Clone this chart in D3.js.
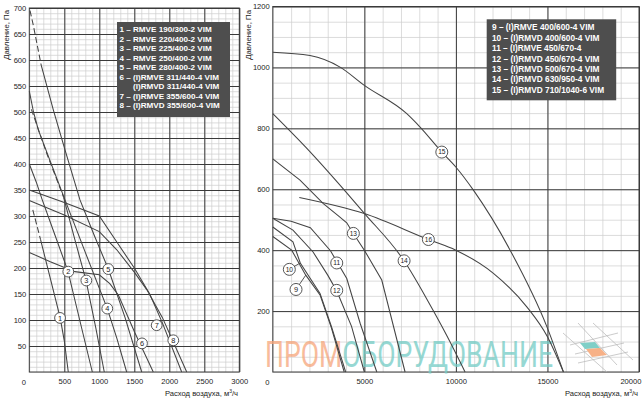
<!DOCTYPE html>
<html>
<head>
<meta charset="utf-8">
<script src="https://cdn.jsdelivr.net/npm/d3@7"></script>
<style>
  body { margin: 0; background: #fff; }
  svg { display: block; font-family: "Liberation Sans", Arial, sans-serif; }
</style>
</head>
<body>
<svg id="chart" width="642" height="400"></svg>
<script>
// ---- left chart: small fans (m3/h, Pa)
const leftFlowTicks = [500, 1000, 1500, 2000, 2500, 3000];
const leftPressureTicks = [50, 100, 150, 200, 250, 300, 350, 400, 450, 500, 550, 600, 650, 700];
const leftLegend = [
  "1 – RMVE 190/300-2 VIM",
  "2 – RMVE 220/400-2 VIM",
  "3 – RMVE 225/400-2 VIM",
  "4 – RMVE 250/400-2 VIM",
  "5 – RMVE 280/400-2 VIM",
  "6 – (I)RMVE 311/440-4 VIM",
  "      (I)RMVD 311/440-4 VIM",
  "7 – (I)RMVE 355/600-4 VIM",
  "8 – (I)RMVD 355/600-4 VIM"
];

const curve1Dash = [[50, 312], [160, 255]];
const curve1 = [[160, 255], [300, 180], [440, 105], [500, 60], [557, 0]];
const curve2 = [[0, 400], [100, 365], [180, 333], [370, 262], [550, 195], [720, 100], [900, 0]];
const curve3Dash = [[30, 505], [250, 420], [490, 336]];
const curve3 = [[490, 336], [650, 255], [810, 176], [950, 85], [1071, 0]];
const curve4 = [[0, 540], [60, 500], [130, 465], [300, 405], [510, 331], [800, 230], [1114, 122], [1250, 65], [1391, 0]];
const curve5Dash = [[10, 695], [60, 665], [170, 590]];
const curve5 = [[170, 590], [343, 504], [510, 427], [724, 331], [930, 262], [1129, 198], [1367, 105], [1606, 0]];
const curve6 = [[0, 230], [300, 212], [650, 193], [1000, 187], [1150, 170], [1272, 148], [1510, 75], [1771, 0]];
const curve7 = [[0, 350], [500, 326], [1000, 300], [1250, 250], [1500, 200], [1720, 150], [1900, 95], [2177, 0]];
const curve8 = [[0, 330], [500, 302], [1000, 270], [1250, 235], [1500, 192], [1680, 158], [1900, 105], [2249, 0]];

// label number, flow, pressure
const leftLabels = [
  ["1", 439, 104], ["2", 557, 193], ["3", 815, 176], ["4", 1114, 122],
  ["5", 1129, 198], ["6", 1610, 55], ["7", 1820, 90], ["8", 2057, 61]
];

// ---- right chart: big fans
const rightFlowTicks = [5000, 10000, 15000, 20000];
const rightPressureTicks = [200, 400, 600, 800, 1000, 1200];
const rightLegend = [
  "9 – (I)RMVE 400/600-4 VIM",
  "10 – (I)RMVD 400/600-4 VIM",
  "11 – (I)RMVE 450/670-4",
  "12 – (I)RMVD 450/670-4 VIM",
  "13 – (I)RMVD 500/670-4 VIM",
  "14 – (I)RMVD 630/950-4 VIM",
  "15 – (I)RMVD 710/1040-6 VIM"
];

const curve9 = [[0, 445], [1030, 400], [1800, 318], [2579, 253], [3200, 145], [3900, 0]];
const curve10 = [[0, 476], [1100, 427], [1500, 358], [2579, 258], [3200, 150], [3980, 0]];
const curve11 = [[0, 505], [1000, 495], [2050, 474], [3150, 398], [4040, 307], [4770, 160], [5680, 0]];
const curve12 = [[0, 505], [1100, 466], [2200, 394], [3000, 318], [3500, 265], [4300, 150], [5000, 0]];
const curve13 = [[0, 700], [1486, 630], [2760, 553], [3600, 512], [4038, 490], [4400, 455], [5000, 400], [5950, 302], [7224, 0]];
const curve14 = [[0, 848], [2000, 725], [4038, 588], [5000, 521], [7170, 365], [8500, 230], [9500, 120], [10503, 0]];
const curve15 = [[0, 1050], [2033, 1039], [3672, 1001], [5000, 941], [7317, 848], [8044, 804], [9230, 722], [9995, 673], [10956, 597], [12962, 400], [14967, 149], [15874, 0]];
const curve16 = [[1448, 573], [5000, 520], [8497, 435], [9995, 400], [12049, 324], [13873, 214], [15000, 116], [15874, 0]];

const rightLabels = [
  ["9", 1268, 271], ["10", 902, 337], ["11", 3492, 358], ["12", 3492, 268],
  ["13", 4400, 455], ["14", 7170, 365], ["15", 9230, 722], ["16", 8497, 435]
];
// leader lines: label -> flow on its curve
const rightLeaders = [["9", 1800, curve9], ["10", 1500, curve10]];

const svg = d3.select("#chart");
const ink = "#444";

const xL = d3.scaleLinear().domain([0, 3000]).range([29.3, 239.3]);
const yL = d3.scaleLinear().domain([0, 700]).range([372, 8]);
const xR = d3.scaleLinear().domain([0, 20000]).range([272.8, 639]);
const yR = d3.scaleLinear().domain([0, 1200]).range([372, 6.5]);

function grid(x, y, minorX, minorY, majorX, majorY) {
  const [x0, x1] = x.range(), [y0, y1] = y.range();
  const g = svg.append("g");
  g.append("rect").attr("x", x0).attr("y", y1).attr("width", x1 - x0).attr("height", y0 - y1).attr("fill", "#fff");
  g.append("g").attr("transform", `translate(0,${y0})`)
    .call(d3.axisBottom(x).tickValues(minorX).tickSize(-(y0 - y1)).tickFormat(""))
    .call(a => a.selectAll("line").attr("stroke", "#cdcdcd").attr("stroke-width", 0.7))
    .call(a => a.select(".domain").remove());
  g.append("g").attr("transform", `translate(${x0},0)`)
    .call(d3.axisLeft(y).tickValues(minorY).tickSize(-(x1 - x0)).tickFormat(""))
    .call(a => a.selectAll("line").attr("stroke", "#cdcdcd").attr("stroke-width", 0.7))
    .call(a => a.select(".domain").remove());
  g.append("g").attr("transform", `translate(0,${y0})`)
    .call(d3.axisBottom(x).tickValues(majorX).tickSize(-(y0 - y1)).tickFormat(""))
    .call(a => a.selectAll("line").attr("stroke", "#3a3a3a").attr("stroke-width", 1))
    .call(a => a.select(".domain").remove());
  g.append("g").attr("transform", `translate(${x0},0)`)
    .call(d3.axisLeft(y).tickValues(majorY).tickSize(-(x1 - x0)).tickFormat(""))
    .call(a => a.selectAll("line").attr("stroke", "#3a3a3a").attr("stroke-width", 1))
    .call(a => a.select(".domain").remove());
  g.append("rect").attr("x", x0).attr("y", y1).attr("width", x1 - x0).attr("height", y0 - y1)
    .attr("fill", "none").attr("stroke", "#3a3a3a").attr("stroke-width", 1);
}

function axisText(x, y, flowTicks, pressureTicks) {
  const [x0] = x.range(), [y0] = y.range();
  const style = a => a.attr("font-size", 7.6).attr("font-family", null)
    .call(s => s.select(".domain").remove())
    .call(s => s.selectAll("text").attr("fill", "#222"));
  svg.append("g").attr("transform", `translate(0,${y0})`)
    .call(d3.axisBottom(x).tickValues(flowTicks).tickFormat(d3.format("d")).tickSize(0).tickPadding(7))
    .call(style);
  svg.append("g").attr("transform", `translate(${x0},0)`)
    .call(d3.axisLeft(y).tickValues(pressureTicks).tickFormat(d3.format("d")).tickSize(0).tickPadding(3))
    .call(style);
  svg.append("text").attr("x", x(0) - 5.5).attr("y", y0 + 12.5)
    .attr("text-anchor", "middle").attr("font-size", 7.6).attr("fill", "#222").text("0");
}

grid(xL, yL, d3.range(0, 3001, 100), d3.range(0, 701, 10), leftFlowTicks, leftPressureTicks);
grid(xR, yR, d3.range(0, 20001, 1000), d3.range(0, 1201, 50), rightFlowTicks, rightPressureTicks);
axisText(xL, yL, leftFlowTicks, leftPressureTicks);
axisText(xR, yR, rightFlowTicks, rightPressureTicks);
// last right-hand label is pulled in to stay inside the picture
svg.selectAll("g.tick text").filter(d => d === 20000).attr("text-anchor", "end").attr("dx", 2);

// axis titles
[[9, 10], [251, 10]].forEach(([tx, ty]) => {
  svg.append("text").attr("transform", `translate(${tx},${ty}) rotate(-90)`)
    .attr("text-anchor", "end").attr("font-size", 7.8).attr("fill", "#222").text("Давление, Па");
});
[[238, 396], [638, 396]].forEach(([tx, ty]) => {
  svg.append("text").attr("x", tx).attr("y", ty).attr("text-anchor", "end")
    .attr("font-size", 7.6).attr("fill", "#222")
    .html("Расход воздуха, м<tspan font-size='5' dy='-3'>3</tspan><tspan dy='3'>/ч</tspan>");
});

// watermark (drawn under the curves)
const wm = svg.append("text").attr("x", 265).attr("y", 367)
  .attr("font-family", "Roboto, 'Liberation Sans', sans-serif").attr("font-size", 36)
  .attr("textLength", 288).attr("lengthAdjust", "spacingAndGlyphs").attr("opacity", 0.75);
wm.append("tspan").attr("fill", "#f6a57a").text("ПРОМ");
wm.append("tspan").attr("fill", "#74ccc5").text("ОБОРУДОВАНИЕ");

const logo = svg.append("g").attr("stroke", "#b5b5b5").attr("stroke-width", 0.7).attr("fill", "none");
["M563,333L607,372", "M578,323L617,365", "M593,323L633,360",
 "M570,345L618,333", "M578,363L628,352", "M575,354L624,343"]
  .forEach(d => logo.append("path").attr("d", d));
svg.append("path").attr("d", "M580,343L595,342L600,348L585,349Z").attr("fill", "#7fcfc7");
svg.append("path").attr("d", "M586,349L600,348L607,355L592,357Z").attr("fill", "#f7b187");

function drawCurves(x, y, solid, dashed, smooth) {
  const straight = d3.line().x(d => x(d[0])).y(d => y(d[1]));
  const curved = d3.line().x(d => x(d[0])).y(d => y(d[1])).curve(d3.curveMonotoneX);
  const g = svg.append("g").attr("fill", "none").attr("stroke", ink).attr("stroke-width", 1.05);
  g.selectAll(".solid").data(solid).join("path")
    .attr("d", (d, i) => (smooth.includes(i) ? curved : straight)(d));
  g.selectAll(".dash").data(dashed).join("path")
    .attr("stroke-dasharray", "6,3").attr("d", straight);
}

drawCurves(xL, yL, [curve1, curve2, curve3, curve4, curve5, curve6, curve7, curve8],
  [curve1Dash, curve3Dash, curve5Dash], []);
drawCurves(xR, yR, [curve9, curve10, curve11, curve12, curve13, curve14, curve15, curve16],
  [], [5, 6, 7]);

// pressure on a curve at a given flow
function at(curve, q) {
  return d3.scaleLinear().domain(curve.map(d => d[0])).range(curve.map(d => d[1]))(q);
}
const rightLabelMap = new Map(rightLabels.map(d => [d[0], d]));
svg.append("g").attr("stroke", ink).attr("stroke-width", 0.9)
  .selectAll("line").data(rightLeaders).join("line")
  .attr("x1", d => xR(rightLabelMap.get(d[0])[1]))
  .attr("y1", d => yR(rightLabelMap.get(d[0])[2]))
  .attr("x2", d => xR(d[1]))
  .attr("y2", d => yR(at(d[2], d[1])));

function drawLabels(x, y, labels, r) {
  const g = svg.append("g").selectAll("g").data(labels).join("g")
    .attr("transform", d => `translate(${x(d[1])},${y(d[2])})`);
  g.append("circle").attr("r", r).attr("fill", "#fff").attr("stroke", ink).attr("stroke-width", 0.9);
  g.append("text").attr("text-anchor", "middle").attr("dy", "0.36em")
    .attr("font-size", d => d[0].length > 1 ? 6.6 : 7.4).attr("fill", "#222").text(d => d[0]);
}
drawLabels(xL, yL, leftLabels, 5.4);
drawLabels(xR, yR, rightLabels, 6);

function legend(lines, bx, by, bw, bh, tx, ty, step, size) {
  svg.append("rect").attr("x", bx).attr("y", by).attr("width", bw).attr("height", bh).attr("fill", "#4e4e4e");
  svg.append("g").selectAll("text").data(lines).join("text")
    .attr("x", tx).attr("y", (d, i) => ty + i * step)
    .attr("font-size", size).attr("font-weight", "bold").attr("fill", "#fff")
    .attr("xml:space", "preserve").style("white-space", "pre").text(d => d);
}
legend(leftLegend, 117, 22, 113, 95, 119.5, 32.2, 9.5, 8.1);
legend(rightLegend, 486.7, 19.3, 129.5, 81, 492, 30.4, 10.4, 8.3);
</script>
</body>
</html>
